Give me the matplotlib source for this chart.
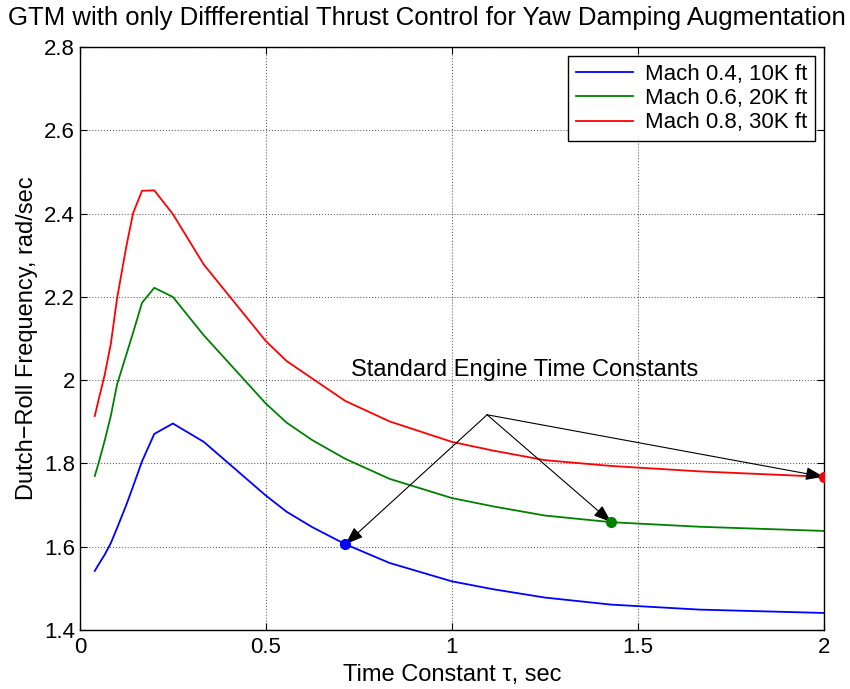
import numpy as np
import matplotlib.pyplot as plt
from matplotlib.ticker import FormatStrFormatter

plt.rcParams['font.family'] = ['Liberation Sans', 'DejaVu Sans']

# Zeitkonstanten (tau, sec)
tau = [0.04, 0.05, 0.0667, 0.0833, 0.1, 0.125, 0.143, 0.167, 0.2, 0.25, 0.333,
       0.5, 0.556, 0.625, 0.714, 0.833, 1.0, 1.111, 1.25, 1.429, 1.667, 2.0]

# Dutch-Roll Frequenz, rad/sec
w_m04 = [1.542, 1.557, 1.581, 1.609, 1.645, 1.701, 1.745, 1.805, 1.871, 1.896, 1.852,
         1.723, 1.684, 1.647, 1.606, 1.561, 1.517, 1.498, 1.478, 1.461, 1.449, 1.441]
w_m06 = [1.770, 1.800, 1.855, 1.915, 1.990, 2.062, 2.114, 2.186, 2.222, 2.200, 2.108,
         1.944, 1.898, 1.856, 1.811, 1.763, 1.717, 1.697, 1.675, 1.659, 1.648, 1.638]
w_m08 = [1.914, 1.952, 2.013, 2.088, 2.197, 2.322, 2.401, 2.455, 2.456, 2.399, 2.278,
         2.094, 2.046, 2.004, 1.950, 1.901, 1.852, 1.831, 1.808, 1.794, 1.781, 1.768]

labels = ["Mach 0.4, 10K ft", "Mach 0.6, 20K ft", "Mach 0.8, 30K ft"]

# Standard-Triebwerkszeitkonstanten (Punkte)
tau_std = [0.714, 1.429, 2.0]
w_std = [1.606, 1.659, 1.768]
std_colors = ['blue', 'green', 'red']

fig = plt.figure(figsize=(8.5, 6.89), dpi=100)
ax = fig.add_axes([0.094, 0.0856, 0.875, 0.846])

ax.plot(tau, w_m04, color='blue', lw=1.3, label=labels[0])
ax.plot(tau, w_m06, color='green', lw=1.3, label=labels[1])
ax.plot(tau, w_m08, color='red', lw=1.3, label=labels[2])
for t, w, c in zip(tau_std, w_std, std_colors):
    ax.plot(t, w, 'o', color=c, markersize=7, zorder=4)

ax.text(0.729, 2.025, "Standard Engine Time Constants", fontsize=17, va='center')
for t, w in zip(tau_std, w_std):
    ax.annotate("", xy=(t, w), xytext=(1.095, 1.917),
                arrowprops=dict(arrowstyle='-|>,head_length=1.1,head_width=0.4',
                                color='black', lw=0.8, shrinkA=0, shrinkB=0))

ax.set_xlim(0, 2)
ax.set_ylim(1.4, 2.8)
ax.set_xticks([0, 0.5, 1, 1.5, 2])
ax.set_yticks([1.4, 1.6, 1.8, 2.0, 2.2, 2.4, 2.6, 2.8])
ax.xaxis.set_major_formatter(FormatStrFormatter('%g'))
ax.yaxis.set_major_formatter(FormatStrFormatter('%g'))
ax.tick_params(direction='in', top=True, right=True, labelsize=16, length=5)
ax.tick_params(axis='x', pad=5)
ax.grid(True, linestyle=':', color='black', lw=0.8, alpha=0.6)
for s in ax.spines.values():
    s.set_linewidth(1.0)

ax.set_xlabel("Time Constant τ, sec", fontsize=17, labelpad=4)
ax.set_ylabel("Dutch−Roll Frequency, rad/sec", fontsize=17, labelpad=4)
fig.text(0.502, 0.974, "GTM with only Diffferential Thrust Control for Yaw Damping Augmentation",
         fontsize=18.5, ha='center', va='center')
leg = ax.legend(loc='upper right', fontsize=16, fancybox=False, framealpha=1,
                edgecolor='black', handlelength=2.6, borderaxespad=0.4,
                labelspacing=0.15, handletextpad=0.5, borderpad=0.35)
leg.get_frame().set_linewidth(1.0)

fig.savefig("out.png", dpi=100)
